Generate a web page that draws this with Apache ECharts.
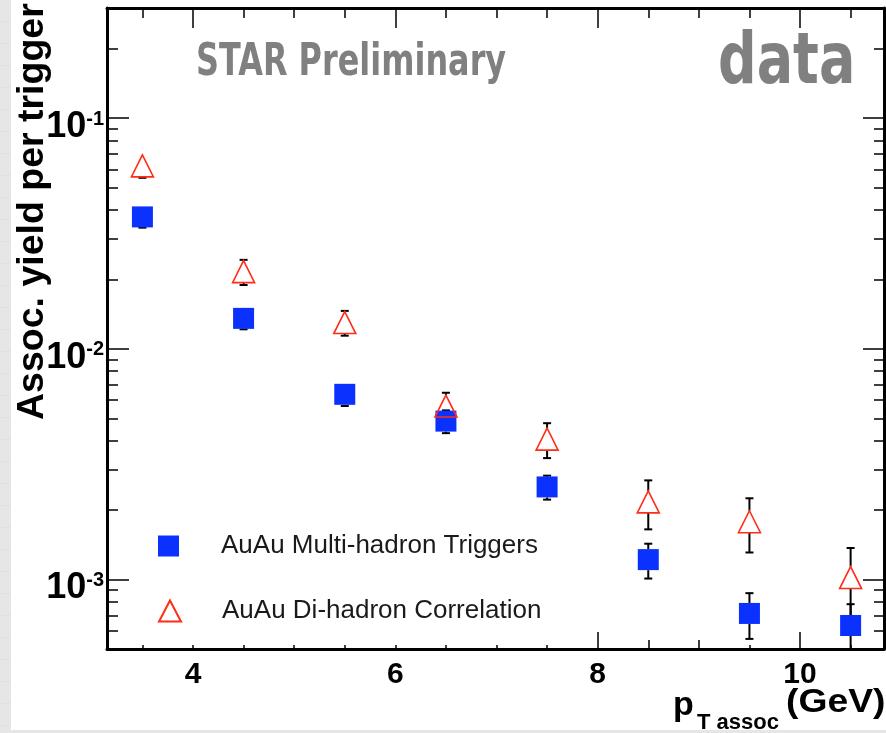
<!DOCTYPE html>
<html>
<head>
<meta charset="utf-8">
<script src="https://cdn.jsdelivr.net/npm/echarts@6/dist/echarts.min.js"></script>
<style>
  html, body { margin: 0; padding: 0; }
  body {
    width: 886px; height: 733px; position: relative; overflow: hidden;
    background-color: #e6e6e6;
    background-image: repeating-linear-gradient(to bottom, transparent 0, transparent 21px, #d4e4ea 21px, #d4e4ea 22px);
  }
  #chart { position: absolute; left: 11px; top: 0; width: 875px; height: 730px; background: #fff; }
</style>
</head>
<body>
<div id="chart"></div>
<script>
// pT assoc bin centres (GeV)
const ptBins = [3.5, 4.5, 5.5, 6.5, 7.5, 8.5, 9.5, 10.5]

// AuAu Multi-hadron Triggers
const multiYield = [0.0373, 0.01355, 0.00635, 0.00486, 0.00252, 0.00122, 0.000713, 0.000632]
const multiErr   = [0.0038, 0.0014, 0.0007, 0.00055, 0.0003, 0.00021, 0.00016, 0.00015]

// AuAu Di-hadron Correlation
const diYield = [0.0621, 0.0216, 0.0130, 0.00565, 0.00406, 0.00217, 0.00178, 0.00102]
const diErr   = [0.007, 0.0027, 0.0016, 0.0008, 0.0007, 0.00052, 0.00047, 0.00035]

// axis ticks
const yMajorTicks = [0.001, 0.01, 0.1]
const yMinorTicks = [0.0006, 0.0007, 0.0008, 0.0009,
	0.002, 0.003, 0.004, 0.005, 0.006, 0.007, 0.008, 0.009,
	0.02, 0.03, 0.04, 0.05, 0.06, 0.07, 0.08, 0.09, 0.2]
const xLabels = [4, 6, 8, 10]
const xHalfTicks = [3.5, 4, 4.5, 5, 5.5, 6, 6.5, 7, 7.5, 8, 8.5, 9, 9.5, 10, 10.5]
const xBottomLong = [8, 10]
const xBottomMid = [8.5, 9]

const Y_MIN = Math.log10(0.0005)
const Y_MAX = Math.log10(0.3)
const X_MIN = 3.15
const X_MAX = 10.83

const lg = v => Math.log10(v)
const FONT = 'Liberation Sans'

const chart = echarts.init(document.getElementById('chart'))

const xAxisBase = (extra) => Object.assign({
	type: 'value', min: X_MIN, max: X_MAX, gridIndex: 0,
	splitLine: {show: false},
	axisLabel: {show: false},
	axisLine: {show: false, onZero: false}
}, extra)

const yAxisBase = (extra) => Object.assign({
	type: 'value', min: Y_MIN, max: Y_MAX, gridIndex: 0,
	splitLine: {show: false},
	axisLabel: {show: false},
	axisLine: {show: false, onZero: false}
}, extra)

const tick = (values, len) => ({
	show: true, inside: true, length: len,
	customValues: values,
	lineStyle: {color: '#000', width: 1.5}
})

// [x, low, high, centre] in log10 space
const errorRows = (vals, errs) => ptBins.map((x, i) => [x, lg(Math.max(vals[i] - errs[i], 1e-6)), lg(vals[i] + errs[i]), lg(vals[i])])

// error bars are not drawn inside the marker (like ROOT)
const renderErr = (gap) => (params, api) => {
	const x = api.value(0)
	const lo = api.coord([x, api.value(1)])
	const hi = api.coord([x, api.value(2)])
	const c = api.coord([x, api.value(3)])
	const w = 4
	const st = {stroke: '#000', lineWidth: 2}
	const parts = []
	if(hi[1] < c[1] - gap){
		parts.push({type: 'line', shape: {x1: c[0], y1: hi[1], x2: c[0], y2: c[1] - gap}, style: st})
		parts.push({type: 'line', shape: {x1: c[0] - w, y1: hi[1], x2: c[0] + w, y2: hi[1]}, style: st})
	}
	if(lo[1] > c[1] + gap){
		parts.push({type: 'line', shape: {x1: c[0], y1: c[1] + gap, x2: c[0], y2: lo[1]}, style: st})
		parts.push({type: 'line', shape: {x1: c[0] - w, y1: lo[1], x2: c[0] + w, y2: lo[1]}, style: st})
	}
	return {type: 'group', children: parts}
}

const txt = (text, x, y, size, extra) => Object.assign({
	type: 'text', x: x, y: y,
	style: {
		text: text, fill: '#000',
		fontFamily: FONT, fontWeight: 'bold', fontSize: size,
		align: 'left', verticalAlign: 'top'
	}
}, extra)

const option = {
	animation: false,
	grid: {left: 96, right: 2, top: 8, bottom: 81},
	xAxis: [
		xAxisBase({
			position: 'bottom',
			axisLine: {show: true, onZero: false, lineStyle: {color: '#000', width: 3}},
			axisTick: tick(xHalfTicks, 4),
			axisLabel: {
				show: true, customValues: xLabels, margin: 11,
				fontFamily: FONT, fontWeight: 'bold', fontSize: 30, color: '#000'
			}
		}),
		xAxisBase({position: 'bottom', axisTick: tick(xBottomLong, 17)}),
		xAxisBase({position: 'bottom', axisTick: tick(xBottomMid, 9)}),
		xAxisBase({
			position: 'top',
			axisLine: {show: true, onZero: false, lineStyle: {color: '#000', width: 3}},
			axisTick: tick(xHalfTicks, 10)
		}),
		xAxisBase({position: 'top', axisTick: tick(xLabels, 20)})
	],
	yAxis: [
		yAxisBase({
			position: 'left',
			axisLine: {show: true, onZero: false, lineStyle: {color: '#000', width: 3}},
			axisTick: tick(yMajorTicks.map(lg), 22),
			axisLabel: {
				show: true, customValues: yMajorTicks.map(lg), margin: 3,
				padding: [18, 0, 0, 0],
				formatter: v => '{b|10}{s|' + Math.round(v) + '}',
				rich: {
					b: {fontFamily: FONT, fontWeight: 'bold', fontSize: 36, color: '#000'},
					s: {fontFamily: FONT, fontWeight: 'bold', fontSize: 20, color: '#000', verticalAlign: 'top'}
				}
			}
		}),
		yAxisBase({position: 'left', axisTick: tick(yMinorTicks.map(lg), 11)}),
		yAxisBase({
			position: 'right',
			axisLine: {show: true, onZero: false, lineStyle: {color: '#000', width: 3}},
			axisTick: tick(yMajorTicks.map(lg), 21)
		}),
		yAxisBase({position: 'right', axisTick: tick(yMinorTicks.map(lg), 10)})
	],
	legend: [
		{
			data: ['AuAu Multi-hadron Triggers'],
			left: 147, top: 533, padding: 0,
			itemWidth: 21, itemHeight: 21,
			textStyle: {fontFamily: FONT, fontSize: 26, color: '#1a1a1a', padding: [0, 0, 0, 37]}
		},
		{
			data: ['AuAu Di-hadron Correlation'],
			left: 147, top: 598, padding: 0,
			itemWidth: 22, itemHeight: 21,
			textStyle: {fontFamily: FONT, fontSize: 26, color: '#1a1a1a', padding: [0, 0, 0, 36]}
		}
	],
	series: [
		{
			type: 'custom', name: 'err-multi', z: 1, clip: true,
			renderItem: renderErr(10.5),
			data: errorRows(multiYield, multiErr)
		},
		{
			type: 'custom', name: 'err-di', z: 1, clip: true,
			renderItem: renderErr(11),
			data: errorRows(diYield, diErr)
		},
		{
			type: 'scatter', name: 'AuAu Multi-hadron Triggers', z: 3,
			symbol: 'rect', symbolSize: 21,
			itemStyle: {color: '#0b31ff', opacity: 1},
			data: ptBins.map((x, i) => [x, lg(multiYield[i])])
		},
		{
			type: 'scatter', name: 'AuAu Di-hadron Correlation', z: 4,
			symbol: 'triangle', symbolSize: [22, 22],
			itemStyle: {color: 'rgba(0,0,0,0)', borderColor: '#ff2d17', borderWidth: 1.6, opacity: 1},
			data: ptBins.map((x, i) => [x, lg(diYield[i])])
		}
	],
	graphic: [
		{
			type: 'text', x: 22, y: 420, rotation: Math.PI / 2,
			style: {
				text: 'Assoc. yield per trigger', fill: '#000',
				fontFamily: FONT, fontWeight: 'bold', fontSize: 37.5,
				align: 'left', verticalAlign: 'middle'
			}
		},
		txt('STAR Preliminary', 185, 42, 44, {scaleX: 0.725, style: {
			text: 'STAR Preliminary', fill: '#808080', fontFamily: 'DejaVu Sans', fontWeight: 'bold',
			fontSize: 44, align: 'left', verticalAlign: 'top'}}),
		txt('data', 707, 28, 72, {scaleX: 0.75, style: {
			text: 'data', fill: '#808080', fontFamily: 'DejaVu Sans', fontWeight: 'bold',
			fontSize: 72, align: 'left', verticalAlign: 'top'}}),
		txt('p', 662, 689, 34),
		txt('T assoc', 686, 712, 22),
		txt('(GeV)', 775, 686, 33, {scaleX: 1.13})
	]
}

chart.setOption(option)
</script>
</body>
</html>
